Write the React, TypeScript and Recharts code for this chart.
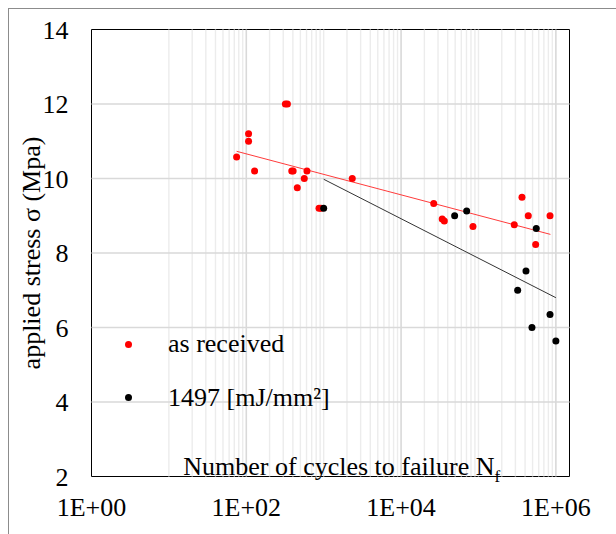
import React from 'react';
import {
  ScatterChart,
  Scatter,
  XAxis,
  YAxis,
  ReferenceLine,
  ReferenceArea,
  Legend,
} from 'recharts';

const FONT = 'Liberation Serif';

// "as received" specimens: cycles to failure and applied stress (MPa)
const asReceivedCycles = [75, 107, 107, 128, 320, 340, 387, 403, 456, 561, 608, 870, 920, 2340, 26400, 34000, 36200, 84900, 290000, 365000, 440000, 548000, 840000];
const asReceivedStress = [10.58, 11.2, 11.0, 10.2, 12.0, 12.0, 10.2, 10.2, 9.75, 10.0, 10.2, 9.2, 9.2, 10.0, 9.33, 8.91, 8.86, 8.71, 8.76, 9.5, 9.0, 8.23, 9.0];

// "1497 [mJ/mm²]" specimens
const treatedCycles = [1000, 49200, 70400, 321000, 411000, 491000, 558000, 840000, 1000000];
const treatedStress = [9.2, 9.0, 9.13, 7.0, 7.52, 6.0, 8.66, 6.35, 5.64];

// logarithmic trend lines (straight on a log axis), end points
const trendAsReceivedCycles = [75, 850000];
const trendAsReceivedStress = [10.73, 8.5];
const trendTreatedCycles = [1000, 1000000];
const trendTreatedStress = [9.98, 6.8];

// axes
const xTicks = [1, 100, 10000, 1000000];
const yTicks = [2, 4, 6, 8, 10, 12, 14];
const yGrid = [4, 6, 8, 10, 12];
const xMajorGrid = [100, 10000, 1000000];
const minorDecades = [10, 100, 1000, 10000, 100000];
const minorMultipliers = [1, 2, 3, 4, 5, 6, 7, 8, 9];
const xMinorGrid = minorDecades
  .flatMap((d) => minorMultipliers.map((m) => m * d))
  .filter((v) => !xMajorGrid.includes(v));

const seriesNames = ['as received', '1497 [mJ/mm²]'];
const seriesColors = ['#ff0000', '#000000'];

const toPoints = (xs: number[], ys: number[]) => xs.map((n, i) => ({ n, s: ys[i] }));

const makeDot = (color: string, r: number) => (props: any) => (
  <circle cx={props.cx} cy={props.cy} r={r} fill={color} />
);
const noDot = () => <g />;

const fmtX = (v: number) => '1E+' + String(Math.round(Math.log10(v))).padStart(2, '0');

const renderLegend = (props: any) => {
  const items = (props.payload || [])
    .filter((p: any) => p.type !== 'none' && seriesNames.includes(p.value))
    .sort((a: any, b: any) => seriesNames.indexOf(a.value) - seriesNames.indexOf(b.value));
  return (
    <div style={{ position: 'relative', width: 300, height: 110, fontFamily: FONT, fontSize: 26, color: '#000' }}>
      {items.map((it: any, i: number) => (
        <div key={i} style={{ position: 'absolute', left: 0, top: i * 53.5, width: 300, height: 40 }}>
          <span
            style={{
              position: 'absolute',
              left: 5.5,
              top: 16.5,
              width: 7,
              height: 7,
              borderRadius: '50%',
              background: it.color,
            }}
          />
          <span style={{ position: 'absolute', left: 49, top: 0, lineHeight: '40px', whiteSpace: 'nowrap' }}>
            {it.value}
          </span>
        </div>
      ))}
    </div>
  );
};

const XTitle = (props: any) => {
  const vb = props.viewBox || {};
  return (
    <text x={vb.x + 91.8} y={vb.y - 1.5} fontFamily={FONT} fontSize={26} fill="#000">
      Number of cycles to failure N
      <tspan fontSize={17} dy={7}>f</tspan>
    </text>
  );
};

const YTitle = (props: any) => {
  const vb = props.viewBox || {};
  const cx = 30.5;
  const cy = vb.y + vb.height / 2;
  return (
    <text
      x={cx}
      y={cy}
      textAnchor="middle"
      transform={`rotate(-90, ${cx}, ${cy})`}
      fontFamily={FONT}
      fontSize={26}
      fill="#000"
    >
      applied stress σ (Mpa)
    </text>
  );
};

export default function App() {
  return (
    <div
      style={{
        position: 'absolute',
        left: 8,
        top: 8,
        width: 608,
        height: 526,
        borderTop: '1px solid #8c8c8c',
        borderLeft: '1px solid #8c8c8c',
        boxSizing: 'border-box',
        background: '#fff',
        fontFamily: FONT,
      }}
    >
      <ScatterChart
        width={607}
        height={525}
        margin={{ top: 20.5, right: 46.5, bottom: 17.5, left: 0 }}
        style={{ fontFamily: FONT }}
      >
        <XAxis
          dataKey="n"
          type="number"
          scale="log"
          domain={[1, 1500000]}
          allowDataOverflow
          ticks={xTicks}
          interval={0}
          tickFormatter={fmtX}
          axisLine={false}
          tickLine={false}
          tickSize={0}
          tickMargin={21.3}
          height={40}
          tick={{ fill: '#000', fontSize: 26, fontFamily: FONT }}
          label={<XTitle />}
        />
        <YAxis
          dataKey="s"
          type="number"
          domain={[2, 14]}
          ticks={yTicks}
          interval={0}
          axisLine={false}
          tickLine={false}
          tickSize={0}
          tickMargin={23}
          width={82.5}
          tick={{ fill: '#000', fontSize: 26, fontFamily: FONT }}
          label={<YTitle />}
        />
        {xMinorGrid.map((v) => (
          <ReferenceLine key={'mx' + v} x={v} stroke="#ececec" strokeWidth={1.4} />
        ))}
        {xMajorGrid.map((v) => (
          <ReferenceLine key={'Mx' + v} x={v} stroke="#d9d9d9" strokeWidth={1.6} />
        ))}
        {yGrid.map((v) => (
          <ReferenceLine key={'y' + v} y={v} stroke="#d9d9d9" strokeWidth={1.6} />
        ))}
        <ReferenceArea
          x1={1}
          x2={1500000}
          y1={2}
          y2={14}
          fill="none"
          stroke="#000"
          strokeWidth={1}
          ifOverflow="visible"
        />
        <Legend
          layout="vertical"
          align="center"
          verticalAlign="middle"
          content={renderLegend}
          wrapperStyle={{ left: 110, top: 315, width: 300, height: 110 }}
        />
        <Scatter
          name="trend as received"
          data={toPoints(trendAsReceivedCycles, trendAsReceivedStress)}
          line={{ stroke: '#ff3b3b', strokeWidth: 1 }}
          shape={noDot}
          legendType="none"
          isAnimationActive={false}
        />
        <Scatter
          name="trend 1497"
          data={toPoints(trendTreatedCycles, trendTreatedStress)}
          line={{ stroke: '#333333', strokeWidth: 1 }}
          shape={noDot}
          legendType="none"
          isAnimationActive={false}
        />
        <Scatter
          name={seriesNames[0]}
          data={toPoints(asReceivedCycles, asReceivedStress)}
          fill={seriesColors[0]}
          shape={makeDot(seriesColors[0], 3.5)}
          isAnimationActive={false}
        />
        <Scatter
          name={seriesNames[1]}
          data={toPoints(treatedCycles, treatedStress)}
          fill={seriesColors[1]}
          shape={makeDot(seriesColors[1], 3.5)}
          isAnimationActive={false}
        />
      </ScatterChart>
    </div>
  );
}
